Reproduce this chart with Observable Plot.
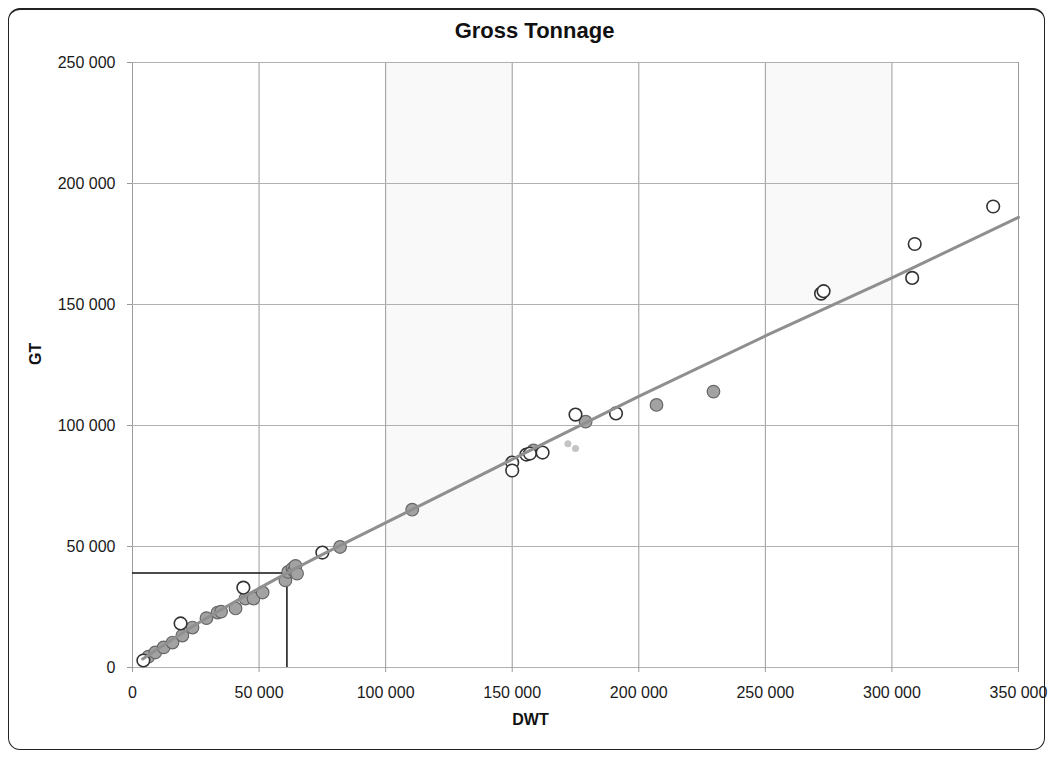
<!DOCTYPE html>
<html><head><meta charset="utf-8">
<script src="https://cdn.jsdelivr.net/npm/d3@7"></script>
<script src="https://cdn.jsdelivr.net/npm/@observablehq/plot@0.6"></script>
<style>
body{margin:0;background:#fff;}
#wrap{position:relative;width:1054px;height:758px;font-family:"Liberation Sans",Arial,sans-serif;}
#border{position:absolute;left:8px;top:8px;width:1035px;height:739px;border:1.5px solid #222;border-top-width:2px;border-radius:12px;pointer-events:none;}
</style></head><body><div id="wrap"><div id="border"></div></div>
<script>
// Filled (grey) ships
const filledDwt = [6300, 9000, 12300, 15800, 19700, 23700, 29200, 33600, 35000, 40700, 44600, 47800, 51400, 60400, 61500, 63200, 63800, 64400, 65000, 82000, 110500, 158400, 179000, 207000, 229500];
const filledGt  = [4500, 6200, 8300, 10300, 13200, 16500, 20400, 22700, 23100, 24400, 28500, 28500, 31000, 36000, 39500, 40900, 39900, 42000, 38800, 49800, 65200, 89700, 101600, 108500, 114000];
// Hollow (white) ships
const hollowDwt = [4300, 19000, 43800, 75000, 150000, 150000, 155600, 157000, 162000, 175000, 191000, 272000, 273000, 308000, 309000, 340000];
const hollowGt  = [2900, 18200, 33000, 47500, 84700, 81400, 88000, 88400, 88800, 104500, 105000, 154500, 155500, 161000, 175000, 190500];
// Faint small points
const faintDwt = [172000, 175000];
const faintGt  = [92500, 90500];
// Trend line
const trendDwt = [4000, 20000, 61000, 110000, 150000, 200000, 250000, 300000, 350000];
const trendGt  = [3500, 14500, 39000, 65000, 86000, 112000, 137000, 161000, 186000];
// Marker (reference lines)
const markDwt = 61000;
const markGt = 39000;
// Ticks
const xTicks = [0, 50000, 100000, 150000, 200000, 250000, 300000, 350000];
const yTicks = [0, 50000, 100000, 150000, 200000, 250000];
// Faint shaded panels
const shadeX1 = [100000, 250000];
const shadeX2 = [150000, 300000];
const shadeY1 = [50000, 150000];
const shadeY2 = [250000, 250000];

const zip = (xs, ys) => xs.map((x, i) => ({x, y: ys[i]}));
const filled = zip(filledDwt, filledGt);
const hollow = zip(hollowDwt, hollowGt);
const faint = zip(faintDwt, faintGt);
const trend = zip(trendDwt, trendGt);
const shades = shadeX1.map((x1, i) => ({x1, x2: shadeX2[i], y1: shadeY1[i], y2: shadeY2[i]}));
const fmt = d => d3.format(",")(d).replace(/,/g, " ");

const chart = Plot.plot({
  width: 1054,
  height: 758,
  marginLeft: 132,
  marginRight: 36,
  marginTop: 62,
  marginBottom: 91,
  style: {fontFamily: '"Liberation Sans", Arial, sans-serif', fontSize: "16px", background: "transparent"},
  x: {domain: [0, 350000], label: null},
  y: {domain: [0, 250000], label: null},
  marks: [
    Plot.rect(shades, {x1: "x1", x2: "x2", y1: "y1", y2: "y2", fill: "#f9f9f9"}),
    Plot.gridX(xTicks, {stroke: "#9a9a9a", strokeOpacity: 1, strokeWidth: 1}),
    Plot.gridY(yTicks, {stroke: "#b0b0b0", strokeOpacity: 1, strokeWidth: 1}),
    Plot.axisX(xTicks, {tickSize: 5, tickPadding: 14, tickFormat: fmt, fontSize: 16, stroke: "#999", fill: "#1a1a1a"}),
    Plot.axisY(yTicks, {tickSize: 5, tickPadding: 12, tickFormat: fmt, fontSize: 16, stroke: "#999", fill: "#1a1a1a"}),
    Plot.ruleY([markGt], {x1: 0, x2: markDwt, stroke: "#111", strokeWidth: 1.5}),
    Plot.ruleX([markDwt], {y1: 0, y2: markGt, stroke: "#111", strokeWidth: 1.5}),
    Plot.dot(faint, {x: "x", y: "y", r: 3.5, fill: "#c4c4c4", stroke: "none"}),
    Plot.dot(filled, {x: "x", y: "y", r: 6.3, fill: "#a2a2a2", stroke: "#666", strokeWidth: 1.2}),
    Plot.dot(hollow, {x: "x", y: "y", r: 6.3, fill: "#fff", stroke: "#333", strokeWidth: 1.6}),
    Plot.line(trend, {x: "x", y: "y", stroke: "#8f8f8f", strokeWidth: 3, curve: "monotone-x"}),
    Plot.text(["Gross Tonnage"], {frameAnchor: "top", dy: -40, dx: -41, fontSize: 22, fontWeight: "bold", fill: "#111"}),
    Plot.text(["GT"], {frameAnchor: "left", dx: -97, rotate: -90, fontSize: 16, fontWeight: "bold", fill: "#111"}),
    Plot.text(["DWT"], {frameAnchor: "bottom", dy: 57, dx: -45, fontSize: 16, fontWeight: "bold", fill: "#111"})
  ]
});
document.getElementById("wrap").prepend(chart);
</script>
</body></html>
